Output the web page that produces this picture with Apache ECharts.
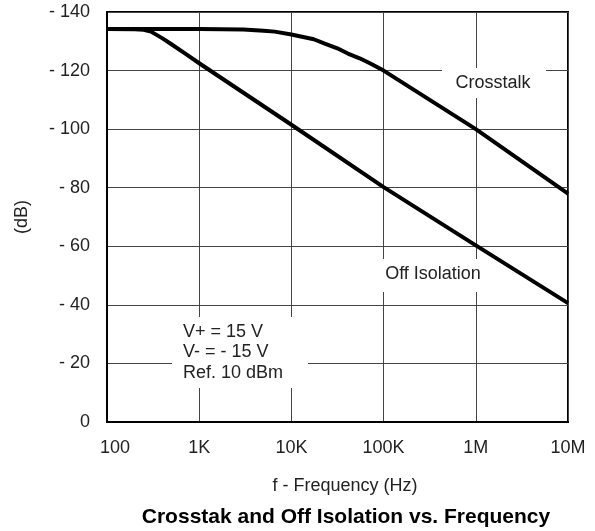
<!DOCTYPE html>
<html>
<head>
<meta charset="utf-8">
<script src="https://cdn.jsdelivr.net/npm/echarts@6/dist/echarts.min.js"></script>
<style>
html,body{margin:0;padding:0;background:#fff;}
#chart{width:595px;height:531px;}
</style>
</head>
<body>
<div id="chart"></div>
<script>
// ---- data ----
const xTickLabels = ['100', '1K', '10K', '100K', '1M', '10M'];
const crosstalkFreq = [100, 1000, 3000, 5000, 6600, 10000, 17500, 23000, 31500, 41000, 55000, 71000, 100000, 1000000, 10000000];
const crosstalkDb   = [-134.2, -134.2, -134, -133.6, -133.3, -132.3, -130.7, -129.2, -127.6, -125.8, -124.2, -122.5, -120, -100, -78];
const offIsoFreq = [100, 200, 250, 300, 400, 500, 700, 1000, 10000, 100000, 1000000, 10000000];
const offIsoDb   = [-134.2, -134.1, -133.9, -133.3, -131, -129, -125.9, -122.5, -101.5, -80.2, -60.3, -40.6];
const seriesNames = ['Crosstalk', 'Off Isolation'];
const noteLines = ['V+ = 15 V', 'V- = - 15 V', 'Ref. 10 dBm'];

const FONT = "'Liberation Sans', Arial, Helvetica, sans-serif";
const chart = echarts.init(document.getElementById('chart'));

function pairs(xs, ys) { return xs.map((x, i) => [x, ys[i]]); }

const option = {
  animation: false,
  backgroundColor: '#fff',
  textStyle: { fontFamily: FONT },
  grid: { left: 107, right: 27, top: 12, bottom: 109, show: true, borderColor: '#000', borderWidth: 2, backgroundColor: 'transparent' },
  xAxis: {
    type: 'log', logBase: 10, min: 100, max: 10000000,
    name: 'f - Frequency (Hz)', nameLocation: 'middle', nameGap: 55,
    nameTextStyle: { fontSize: 18, color: '#222', fontFamily: FONT, padding: [0, 0, 0, 15] },
    axisLine: { show: true, lineStyle: { color: '#000', width: 2 } },
    axisTick: { show: false },
    axisLabel: {
      fontSize: 18, color: '#222', fontFamily: FONT, margin: 17,
      formatter: function (v) {
        const i = Math.round(Math.log10(v)) - 2;
        const t = xTickLabels[i] !== undefined ? xTickLabels[i] : '';
        return i === 0 ? '{a|' + t + '}' : t;
      },
      rich: { a: { fontSize: 18, color: '#222', fontFamily: FONT, padding: [0, 0, 0, 16] } }
    },
    splitLine: { show: true, lineStyle: { color: '#444', width: 1 } },
    minorSplitLine: { show: false }
  },
  yAxis: {
    type: 'value', min: -140, max: 0, interval: 20, inverse: true,
    name: '(dB)', nameLocation: 'middle', nameGap: 76, nameRotate: 90,
    nameTextStyle: { fontSize: 18, color: '#222', fontFamily: FONT },
    axisLine: { show: true, lineStyle: { color: '#000', width: 2 } },
    axisTick: { show: false },
    axisLabel: {
      fontSize: 18, color: '#222', fontFamily: FONT, margin: 17,
      formatter: function (v) { return v === 0 ? '0' : '- ' + Math.abs(v); }
    },
    splitLine: { show: true, lineStyle: { color: '#444', width: 1 } }
  },
  series: [
    {
      name: seriesNames[0], type: 'line', data: pairs(crosstalkFreq, crosstalkDb),
      showSymbol: false, smooth: false, z: 3,
      lineStyle: { color: '#000', width: 4, join: 'round', cap: 'butt' }
    },
    {
      name: seriesNames[1], type: 'line', data: pairs(offIsoFreq, offIsoDb),
      showSymbol: false, smooth: false, z: 3,
      lineStyle: { color: '#000', width: 4, join: 'round', cap: 'butt' }
    }
  ],
  graphic: [
    { type: 'rect', z: 1, shape: { x: 442, y: 68, width: 104, height: 30 }, style: { fill: '#fff' } },
    { type: 'text', z: 1, x: 493, y: 83, style: { text: seriesNames[0], font: '18px ' + FONT, fill: '#222', align: 'center', verticalAlign: 'middle' } },
    { type: 'rect', z: 1, shape: { x: 378, y: 259, width: 110, height: 33 }, style: { fill: '#fff' } },
    { type: 'text', z: 1, x: 433, y: 274, style: { text: seriesNames[1], font: '18px ' + FONT, fill: '#222', align: 'center', verticalAlign: 'middle' } },
    { type: 'rect', z: 1, shape: { x: 172, y: 317, width: 136, height: 71 }, style: { fill: '#fff' } },
    { type: 'text', z: 1, x: 183, y: 332, style: { text: noteLines[0], font: '18px ' + FONT, fill: '#222', align: 'left', verticalAlign: 'middle' } },
    { type: 'text', z: 1, x: 183, y: 352, style: { text: noteLines[1], font: '18px ' + FONT, fill: '#222', align: 'left', verticalAlign: 'middle' } },
    { type: 'text', z: 1, x: 183, y: 373, style: { text: noteLines[2], font: '18px ' + FONT, fill: '#222', align: 'left', verticalAlign: 'middle' } },
    { type: 'text', z: 1, x: 346, y: 517, style: { text: 'Crosstak and Off Isolation vs. Frequency', font: 'bold 21px ' + FONT, fill: '#000', align: 'center', verticalAlign: 'middle' } }
  ]
};
chart.setOption(option);
</script>
</body>
</html>
